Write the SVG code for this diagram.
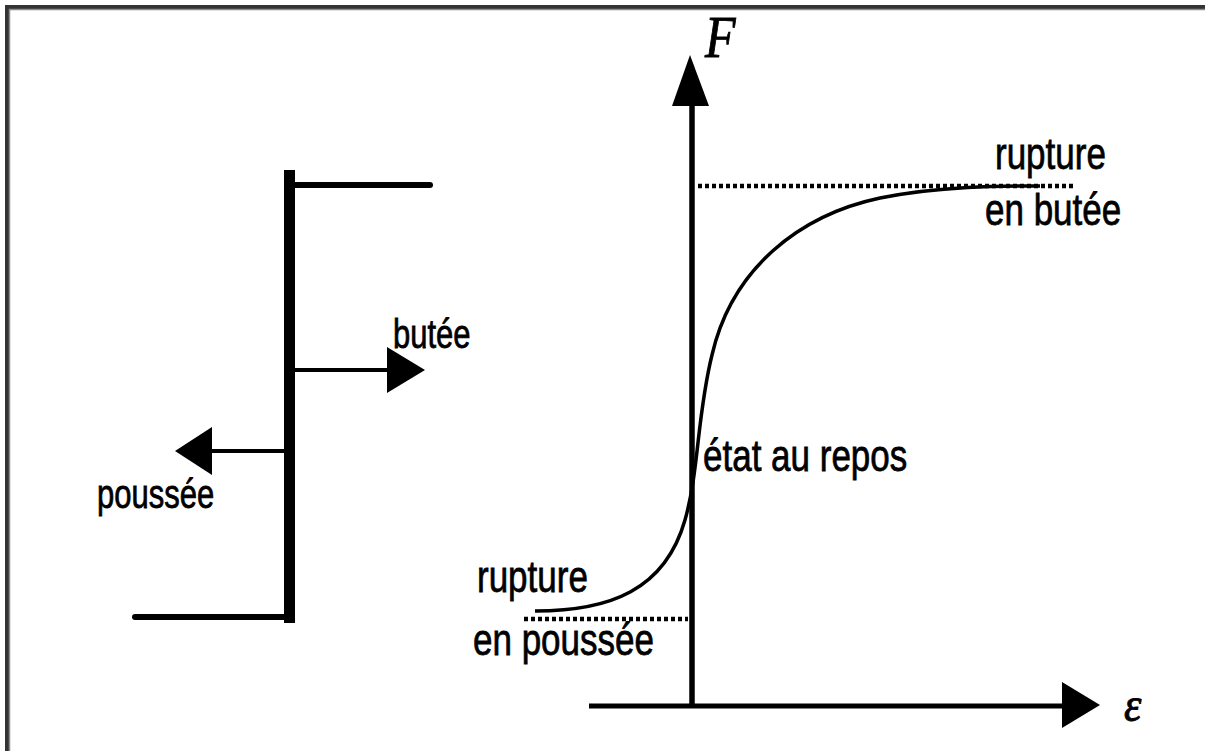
<svg xmlns="http://www.w3.org/2000/svg" width="1205" height="751" viewBox="0 0 1205 751">
<style>
.lbl{font-family:"Liberation Sans",Arial,sans-serif;fill:#000;stroke:#000;stroke-width:0.6}
.big{font-size:35px}
.small{font-size:31px}
.math{font-family:"Liberation Serif","Times New Roman",serif;font-style:italic;fill:#000;stroke:#000;stroke-width:0.8}
.ln{stroke:#000;fill:none}
.dot{stroke:#000;stroke-width:4.5;stroke-dasharray:4 3;fill:none}
</style>
<rect width="1205" height="751" fill="#fff"/>
<g id="frame">
<path d="M5,751 V5 H1205 V9.5 H9.5 V751 Z" fill="#333"/>
<path d="M9.5,751 V9.5 H1205" stroke="#8a8a8a" stroke-width="1.5" fill="none"/>
</g>
<g id="wall">
<line class="ln" x1="289.5" y1="170" x2="289.5" y2="623" stroke-width="11"/>
<line class="ln" x1="294" y1="185" x2="430" y2="185" stroke-width="6" stroke-linecap="round"/>
<line class="ln" x1="135" y1="617" x2="285" y2="617" stroke-width="6" stroke-linecap="round"/>
</g>
<g id="arrows">
<line class="ln" x1="295" y1="370" x2="390" y2="370" stroke-width="4"/>
<polygon points="387,347 425,370 387,393" fill="#000"/>
<line class="ln" x1="285" y1="451" x2="208" y2="451" stroke-width="4"/>
<polygon points="212,427 175,451 212,475" fill="#000"/>
</g>
<g id="axes">
<line class="ln" x1="692" y1="100" x2="692" y2="708" stroke-width="5.5"/>
<polygon points="690,55 672,106 709,106" fill="#000"/>
<line class="ln" x1="589" y1="706" x2="1066" y2="706" stroke-width="5"/>
<polygon points="1100,705 1062,682 1062,728" fill="#000"/>
</g>
<g id="guides">
<line class="dot" x1="698" y1="186" x2="1074" y2="186"/>
<line class="dot" x1="524" y1="619" x2="688" y2="619"/>
</g>
<g id="curve">
<path class="ln" stroke-width="3.5" d="M535,611 C610,611 665,590 685,520 C699,471 697,415 712,355 C732,268 800,215 880,198 C940,186 1000,186 1040,186"/>
</g>
<g id="labels">
<text class="math" transform="translate(705,57) scale(1,1.18)" font-size="50">F</text>
<text class="math" transform="translate(1124,721) scale(1,1.1)" font-size="44">ε</text>
<text class="lbl big" transform="translate(995,169) scale(1,1.25)">rupture</text>
<text class="lbl big" transform="translate(985,225) scale(1,1.25)">en butée</text>
<text class="lbl big" transform="translate(703,471) scale(1,1.25)">état au repos</text>
<text class="lbl big" transform="translate(477,592) scale(1,1.25)">rupture</text>
<text class="lbl big" transform="translate(473,655) scale(1,1.25)">en poussée</text>
<text class="lbl small" transform="translate(393,348) scale(1,1.3)">butée</text>
<text class="lbl small" transform="translate(97,508) scale(1,1.3)">poussée</text>
</g>
</svg>
